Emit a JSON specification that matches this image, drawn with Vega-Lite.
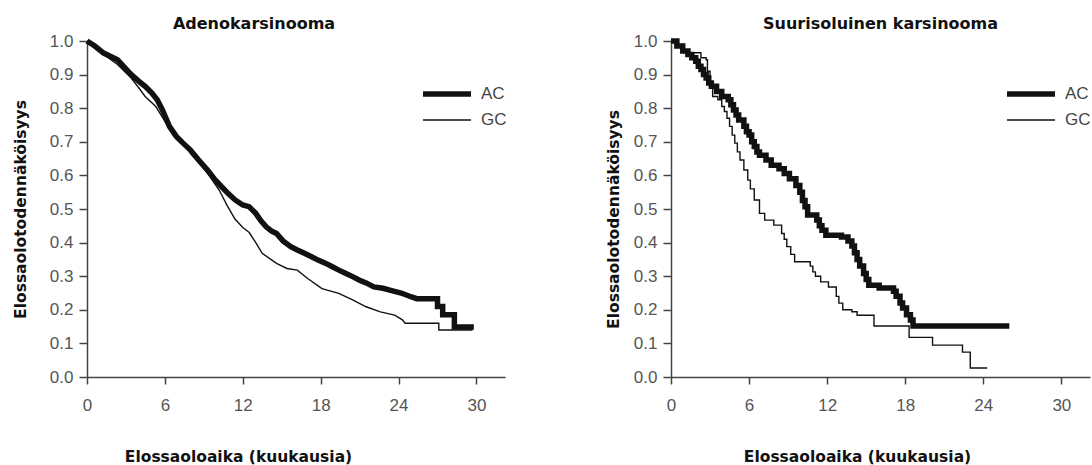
{
  "$schema": "https://vega.github.io/schema/vega-lite/v6.json",
  "background": "white",
  "padding": {"left": 13, "top": 16, "right": 0, "bottom": 0},
  "spacing": 99,
  "resolve": {"scale": {"strokeWidth": "independent"}, "legend": {"strokeWidth": "independent"}},
  "config": {
    "view": {"stroke": null},
    "font": "Liberation Sans",
    "axis": {"grid": false, "domainColor": "#444", "domainWidth": 1.5, "tickColor": "#444", "tickWidth": 1.5, "labelFont": "Liberation Sans", "labelFontSize": 17, "labelColor": "#555", "titleFont": "DejaVu Sans", "titleFontSize": 15.5, "titleFontWeight": "bold", "titleColor": "#111"},
    "axisX": {"tickSize": 7, "labelPadding": 13, "labelFlush": false},
    "axisY": {"tickSize": 8, "labelPadding": 6},
    "title": {"font": "DejaVu Sans", "fontSize": 16, "fontWeight": "bold", "color": "#111"},
    "legend": {"orient": "none", "title": null, "symbolType": "M-2,0H2", "symbolSize": 576, "symbolStrokeColor": "#111", "labelFont": "Liberation Sans", "labelFontSize": 17, "labelColor": "#444", "labelOffset": 19, "rowPadding": 2}
  },
  "datasets": {
    "left": [
      {"g": "AC", "i": 1, "t": 0, "S": 1.0},
      {"g": "AC", "i": 2, "t": 0.6, "S": 0.985},
      {"g": "AC", "i": 3, "t": 1.28, "S": 0.964},
      {"g": "AC", "i": 4, "t": 2.35, "S": 0.944},
      {"g": "AC", "i": 5, "t": 2.8, "S": 0.925},
      {"g": "AC", "i": 6, "t": 3.41, "S": 0.9},
      {"g": "AC", "i": 7, "t": 4.0, "S": 0.88},
      {"g": "AC", "i": 8, "t": 4.48, "S": 0.865},
      {"g": "AC", "i": 9, "t": 5.0, "S": 0.845},
      {"g": "AC", "i": 10, "t": 5.41, "S": 0.825},
      {"g": "AC", "i": 11, "t": 5.81, "S": 0.795},
      {"g": "AC", "i": 12, "t": 6.35, "S": 0.746},
      {"g": "AC", "i": 13, "t": 6.88, "S": 0.716},
      {"g": "AC", "i": 14, "t": 7.4, "S": 0.696},
      {"g": "AC", "i": 15, "t": 7.95, "S": 0.676},
      {"g": "AC", "i": 16, "t": 8.6, "S": 0.646},
      {"g": "AC", "i": 17, "t": 9.28, "S": 0.616},
      {"g": "AC", "i": 18, "t": 9.8, "S": 0.59},
      {"g": "AC", "i": 19, "t": 10.35, "S": 0.567},
      {"g": "AC", "i": 20, "t": 10.9, "S": 0.545},
      {"g": "AC", "i": 21, "t": 11.41, "S": 0.527},
      {"g": "AC", "i": 22, "t": 12.0, "S": 0.512},
      {"g": "AC", "i": 23, "t": 12.48, "S": 0.507},
      {"g": "AC", "i": 24, "t": 13.0, "S": 0.487},
      {"g": "AC", "i": 25, "t": 13.4, "S": 0.465},
      {"g": "AC", "i": 26, "t": 13.8, "S": 0.447},
      {"g": "AC", "i": 27, "t": 14.2, "S": 0.435},
      {"g": "AC", "i": 28, "t": 14.6, "S": 0.427},
      {"g": "AC", "i": 29, "t": 15.1, "S": 0.405},
      {"g": "AC", "i": 30, "t": 15.7, "S": 0.388},
      {"g": "AC", "i": 31, "t": 16.2, "S": 0.378},
      {"g": "AC", "i": 32, "t": 16.75, "S": 0.368},
      {"g": "AC", "i": 33, "t": 17.3, "S": 0.358},
      {"g": "AC", "i": 34, "t": 17.8, "S": 0.348},
      {"g": "AC", "i": 35, "t": 18.4, "S": 0.338},
      {"g": "AC", "i": 36, "t": 18.9, "S": 0.328},
      {"g": "AC", "i": 37, "t": 19.4, "S": 0.318},
      {"g": "AC", "i": 38, "t": 19.95, "S": 0.308},
      {"g": "AC", "i": 39, "t": 20.5, "S": 0.298},
      {"g": "AC", "i": 40, "t": 21.0, "S": 0.288},
      {"g": "AC", "i": 41, "t": 21.5, "S": 0.28},
      {"g": "AC", "i": 42, "t": 22.1, "S": 0.268},
      {"g": "AC", "i": 43, "t": 22.8, "S": 0.264},
      {"g": "AC", "i": 44, "t": 23.4, "S": 0.258},
      {"g": "AC", "i": 45, "t": 24.2, "S": 0.25},
      {"g": "AC", "i": 46, "t": 24.8, "S": 0.241},
      {"g": "AC", "i": 47, "t": 25.4, "S": 0.233},
      {"g": "AC", "i": 48, "t": 27.0, "S": 0.233},
      {"g": "AC", "i": 49, "t": 27.0, "S": 0.21},
      {"g": "AC", "i": 50, "t": 27.4, "S": 0.21},
      {"g": "AC", "i": 51, "t": 27.4, "S": 0.185},
      {"g": "AC", "i": 52, "t": 28.3, "S": 0.185},
      {"g": "AC", "i": 53, "t": 28.3, "S": 0.149},
      {"g": "AC", "i": 54, "t": 29.8, "S": 0.149},
      {"g": "GC", "i": 1, "t": 0, "S": 1.0},
      {"g": "GC", "i": 2, "t": 0.6, "S": 0.98},
      {"g": "GC", "i": 3, "t": 1.28, "S": 0.96},
      {"g": "GC", "i": 4, "t": 2.35, "S": 0.93},
      {"g": "GC", "i": 5, "t": 3.4, "S": 0.89},
      {"g": "GC", "i": 6, "t": 4.0, "S": 0.86},
      {"g": "GC", "i": 7, "t": 4.48, "S": 0.835},
      {"g": "GC", "i": 8, "t": 5.3, "S": 0.805},
      {"g": "GC", "i": 9, "t": 6.1, "S": 0.755},
      {"g": "GC", "i": 10, "t": 7.15, "S": 0.706},
      {"g": "GC", "i": 11, "t": 8.2, "S": 0.656},
      {"g": "GC", "i": 12, "t": 9.3, "S": 0.606},
      {"g": "GC", "i": 13, "t": 10.2, "S": 0.555},
      {"g": "GC", "i": 14, "t": 10.8, "S": 0.51},
      {"g": "GC", "i": 15, "t": 11.4, "S": 0.47},
      {"g": "GC", "i": 16, "t": 12.0, "S": 0.445},
      {"g": "GC", "i": 17, "t": 12.5, "S": 0.43},
      {"g": "GC", "i": 18, "t": 13.0, "S": 0.4},
      {"g": "GC", "i": 19, "t": 13.5, "S": 0.368},
      {"g": "GC", "i": 20, "t": 14.6, "S": 0.338},
      {"g": "GC", "i": 21, "t": 15.4, "S": 0.323},
      {"g": "GC", "i": 22, "t": 16.2, "S": 0.318},
      {"g": "GC", "i": 23, "t": 17.0, "S": 0.293},
      {"g": "GC", "i": 24, "t": 18.1, "S": 0.263},
      {"g": "GC", "i": 25, "t": 19.4, "S": 0.249},
      {"g": "GC", "i": 26, "t": 20.5, "S": 0.229},
      {"g": "GC", "i": 27, "t": 21.5, "S": 0.209},
      {"g": "GC", "i": 28, "t": 22.6, "S": 0.194},
      {"g": "GC", "i": 29, "t": 23.7, "S": 0.184},
      {"g": "GC", "i": 30, "t": 24.3, "S": 0.17},
      {"g": "GC", "i": 31, "t": 24.5, "S": 0.16},
      {"g": "GC", "i": 32, "t": 27.1, "S": 0.16},
      {"g": "GC", "i": 33, "t": 27.1, "S": 0.14},
      {"g": "GC", "i": 34, "t": 29.7, "S": 0.14}
    ],
    "right": [
      {"g": "AC", "t": 0, "S": 1.0}, {"g": "AC", "t": 0.45, "S": 0.985}, {"g": "AC", "t": 0.9, "S": 0.97},
      {"g": "AC", "t": 1.3, "S": 0.96}, {"g": "AC", "t": 1.6, "S": 0.95}, {"g": "AC", "t": 1.9, "S": 0.94},
      {"g": "AC", "t": 2.1, "S": 0.925}, {"g": "AC", "t": 2.3, "S": 0.915}, {"g": "AC", "t": 2.5, "S": 0.9},
      {"g": "AC", "t": 2.7, "S": 0.89}, {"g": "AC", "t": 2.9, "S": 0.875}, {"g": "AC", "t": 3.1, "S": 0.865},
      {"g": "AC", "t": 3.5, "S": 0.85}, {"g": "AC", "t": 3.9, "S": 0.835}, {"g": "AC", "t": 4.4, "S": 0.825},
      {"g": "AC", "t": 4.6, "S": 0.81}, {"g": "AC", "t": 4.8, "S": 0.795}, {"g": "AC", "t": 5.0, "S": 0.78},
      {"g": "AC", "t": 5.2, "S": 0.765}, {"g": "AC", "t": 5.6, "S": 0.746}, {"g": "AC", "t": 5.8, "S": 0.73},
      {"g": "AC", "t": 6.0, "S": 0.72}, {"g": "AC", "t": 6.2, "S": 0.7}, {"g": "AC", "t": 6.4, "S": 0.686},
      {"g": "AC", "t": 6.6, "S": 0.67}, {"g": "AC", "t": 6.8, "S": 0.66}, {"g": "AC", "t": 7.3, "S": 0.646},
      {"g": "AC", "t": 7.7, "S": 0.63}, {"g": "AC", "t": 8.3, "S": 0.62}, {"g": "AC", "t": 8.7, "S": 0.606},
      {"g": "AC", "t": 9.1, "S": 0.59}, {"g": "AC", "t": 9.6, "S": 0.57}, {"g": "AC", "t": 9.9, "S": 0.55},
      {"g": "AC", "t": 10.1, "S": 0.525}, {"g": "AC", "t": 10.3, "S": 0.507}, {"g": "AC", "t": 10.5, "S": 0.482},
      {"g": "AC", "t": 11.2, "S": 0.467}, {"g": "AC", "t": 11.4, "S": 0.45}, {"g": "AC", "t": 11.6, "S": 0.437},
      {"g": "AC", "t": 11.9, "S": 0.422}, {"g": "AC", "t": 13.1, "S": 0.417}, {"g": "AC", "t": 13.6, "S": 0.405},
      {"g": "AC", "t": 13.9, "S": 0.39}, {"g": "AC", "t": 14.1, "S": 0.37}, {"g": "AC", "t": 14.3, "S": 0.35},
      {"g": "AC", "t": 14.5, "S": 0.33}, {"g": "AC", "t": 14.8, "S": 0.308}, {"g": "AC", "t": 15.0, "S": 0.29},
      {"g": "AC", "t": 15.2, "S": 0.273}, {"g": "AC", "t": 16.0, "S": 0.265}, {"g": "AC", "t": 17.1, "S": 0.255},
      {"g": "AC", "t": 17.3, "S": 0.24}, {"g": "AC", "t": 17.6, "S": 0.22}, {"g": "AC", "t": 17.8, "S": 0.205},
      {"g": "AC", "t": 18.1, "S": 0.185}, {"g": "AC", "t": 18.4, "S": 0.17}, {"g": "AC", "t": 18.6, "S": 0.152},
      {"g": "AC", "t": 26.0, "S": 0.152},
      {"g": "GC", "t": 0, "S": 1.0}, {"g": "GC", "t": 0.5, "S": 0.99}, {"g": "GC", "t": 1.0, "S": 0.965},
      {"g": "GC", "t": 2.3, "S": 0.95}, {"g": "GC", "t": 2.7, "S": 0.944}, {"g": "GC", "t": 2.8, "S": 0.91},
      {"g": "GC", "t": 3.0, "S": 0.865}, {"g": "GC", "t": 3.2, "S": 0.835}, {"g": "GC", "t": 3.6, "S": 0.825},
      {"g": "GC", "t": 3.9, "S": 0.805}, {"g": "GC", "t": 4.1, "S": 0.79}, {"g": "GC", "t": 4.3, "S": 0.77},
      {"g": "GC", "t": 4.5, "S": 0.746}, {"g": "GC", "t": 4.7, "S": 0.72}, {"g": "GC", "t": 4.9, "S": 0.696},
      {"g": "GC", "t": 5.1, "S": 0.67}, {"g": "GC", "t": 5.3, "S": 0.646}, {"g": "GC", "t": 5.6, "S": 0.616},
      {"g": "GC", "t": 5.9, "S": 0.586}, {"g": "GC", "t": 6.1, "S": 0.56}, {"g": "GC", "t": 6.4, "S": 0.527},
      {"g": "GC", "t": 6.8, "S": 0.487}, {"g": "GC", "t": 7.2, "S": 0.467}, {"g": "GC", "t": 7.9, "S": 0.452},
      {"g": "GC", "t": 8.5, "S": 0.427}, {"g": "GC", "t": 8.7, "S": 0.41}, {"g": "GC", "t": 8.9, "S": 0.388},
      {"g": "GC", "t": 9.2, "S": 0.365}, {"g": "GC", "t": 9.5, "S": 0.343}, {"g": "GC", "t": 10.7, "S": 0.33},
      {"g": "GC", "t": 10.9, "S": 0.313}, {"g": "GC", "t": 11.1, "S": 0.3}, {"g": "GC", "t": 11.5, "S": 0.283},
      {"g": "GC", "t": 12.1, "S": 0.268}, {"g": "GC", "t": 12.7, "S": 0.24}, {"g": "GC", "t": 12.9, "S": 0.22},
      {"g": "GC", "t": 13.2, "S": 0.2}, {"g": "GC", "t": 13.9, "S": 0.194}, {"g": "GC", "t": 14.3, "S": 0.184},
      {"g": "GC", "t": 15.6, "S": 0.152}, {"g": "GC", "t": 18.3, "S": 0.118}, {"g": "GC", "t": 20.1, "S": 0.095},
      {"g": "GC", "t": 22.4, "S": 0.074}, {"g": "GC", "t": 23.0, "S": 0.027}, {"g": "GC", "t": 24.3, "S": 0.027}
    ]
  },
  "hconcat": [
    {
      "width": 418,
      "height": 336,
      "title": {"text": "Adenokarsinooma", "dx": -42, "offset": -2, "frame": "group"},
      "data": {"name": "left"},
      "mark": {"type": "line", "interpolate": "linear", "color": "#111", "strokeJoin": "miter"},
      "encoding": {
        "x": {"field": "t", "type": "quantitative", "scale": {"domain": [0, 32.2], "nice": false},
              "axis": {"values": [0, 6, 12, 18, 24, 30], "format": "d", "title": "Elossaoloaika (kuukausia)", "titleX": 151, "titleY": 84, "titleBaseline": "alphabetic"}},
        "y": {"field": "S", "type": "quantitative", "scale": {"domain": [0, 1], "nice": false},
              "axis": {"values": [0, 0.1, 0.2, 0.3, 0.4, 0.5, 0.6, 0.7, 0.8, 0.9, 1.0], "format": ".1f", "title": "Elossaolotodennäköisyys", "titleX": -62, "titleY": 168, "titleBaseline": "alphabetic"}},
        "strokeWidth": {"field": "g", "type": "ordinal", "scale": {"domain": ["AC", "GC"], "range": [5.5, 1.4]},
              "legend": {"legendX": 345, "legendY": 38}},
        "order": {"field": "i", "type": "quantitative"}
      }
    },
    {
      "width": 419,
      "height": 336,
      "title": {"text": "Suurisoluinen karsinooma", "dx": 0, "offset": -2, "frame": "group"},
      "data": {"name": "right"},
      "mark": {"type": "line", "interpolate": "step-after", "color": "#111", "strokeJoin": "miter"},
      "encoding": {
        "x": {"field": "t", "type": "quantitative", "scale": {"domain": [0, 32.2], "nice": false},
              "axis": {"values": [0, 6, 12, 18, 24, 30], "format": "d", "title": "Elossaoloaika (kuukausia)", "titleX": 186, "titleY": 84, "titleBaseline": "alphabetic"}},
        "y": {"field": "S", "type": "quantitative", "scale": {"domain": [0, 1], "nice": false},
              "axis": {"values": [0, 0.1, 0.2, 0.3, 0.4, 0.5, 0.6, 0.7, 0.8, 0.9, 1.0], "format": ".1f", "title": "Elossaolotodennäköisyys", "titleX": -53, "titleY": 178, "titleBaseline": "alphabetic"}},
        "strokeWidth": {"field": "g", "type": "ordinal", "scale": {"domain": ["AC", "GC"], "range": [5.5, 1.4]},
              "legend": {"legendX": 345, "legendY": 38}}
      }
    }
  ]
}
